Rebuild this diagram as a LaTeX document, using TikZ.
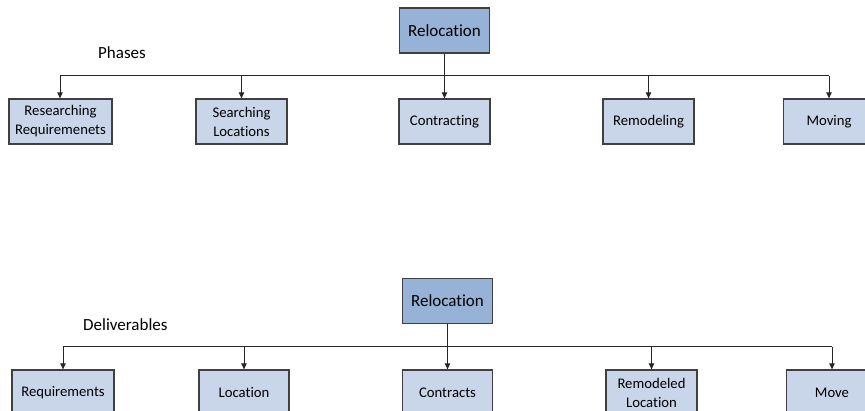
\documentclass[tikz,border=0pt]{standalone}
\usepackage{fontspec}
\setmainfont{Carlito}[RawFeature={-liga}]
\usetikzlibrary{arrows.meta}
\definecolor{rootfill}{RGB}{150,178,214}
\definecolor{leaffill}{RGB}{201,214,233}
\definecolor{edgegray}{RGB}{64,64,64}
\tikzset{
  rootbox/.style={draw=edgegray, line width=1.3pt, fill=rootfill, inner sep=0pt,
    minimum width=90pt, minimum height=45pt, align=center,
    font=\fontsize{17pt}{20pt}\selectfont},
  leafbox/.style={draw=edgegray, line width=1.3pt, fill=leaffill, inner sep=0pt,
    minimum height=45pt, align=center,
    font=\fontsize{14.7pt}{19pt}\selectfont},
  heading/.style={anchor=west, inner sep=0pt, font=\fontsize{17pt}{20pt}\selectfont},
  bus/.style={line width=1pt, draw=black!85},
  feed/.style={line width=1pt, draw=black!85, -{Triangle[length=6pt,width=5.5pt]}}
}
\begin{document}
\begin{tikzpicture}[x=1pt, y=-1pt]
\useasboundingbox (0,0) rectangle (865,411);
\fill[white] (0,0) rectangle (865,411);
\clip (0,0) rectangle (865,411);

% ---- Phases ----
\node[rootbox] (p0) at (444.5,30.5) {Relocation};
\node[heading] (phases) at (98,53) {Phases};
\node[leafbox, minimum width=103pt] (p1) at (60.5,121.5) {Researching\\Requiremenets};
\node[leafbox, minimum width=91pt] (p2) at (241.5,121.5) {Searching\\Locations};
\node[leafbox, minimum width=91pt] (p3) at (444.5,121.5) {Contracting};
\node[leafbox, minimum width=91pt] (p4) at (648.5,121.5) {Remodeling};
\node[leafbox, minimum width=91pt] (p5) at (829,121.5) {Moving};

\coordinate (pbl) at (60,76);
\coordinate (pbr) at (829,76);
\draw[bus] (pbl) -- (pbr);
\draw[feed] (p0.south) -- (p3.north);
\draw[feed] (pbl) -- (p1.north -| pbl);
\draw[feed] (p2.north |- pbl) -- (p2.north);
\draw[feed] (p4.north |- pbl) -- (p4.north);
\draw[feed] (pbr) -- (p5.north);

% ---- Deliverables ----
\node[rootbox] (d0) at (447.5,301) {Relocation};
\node[heading] (deliv) at (83,325) {Deliverables};
\node[leafbox, minimum width=102pt] (d1) at (63,392.5) {Requirements};
\node[leafbox, minimum width=90pt] (d2) at (244,392.5) {Location};
\node[leafbox, minimum width=90pt] (d3) at (447.5,392.5) {Contracts};
\node[leafbox, minimum width=91pt] (d4) at (651.5,392.5) {Remodeled\\Location};
\node[leafbox, minimum width=91pt] (d5) at (832,392.5) {Move};

\coordinate (dbl) at (63,347);
\coordinate (dbr) at (832,347);
\draw[bus] (dbl) -- (dbr);
\draw[feed] (d0.south) -- (d3.north);
\draw[feed] (dbl) -- (d1.north);
\draw[feed] (d2.north |- dbl) -- (d2.north);
\draw[feed] (d4.north |- dbl) -- (d4.north);
\draw[feed] (dbr) -- (d5.north);
\end{tikzpicture}
\end{document}
